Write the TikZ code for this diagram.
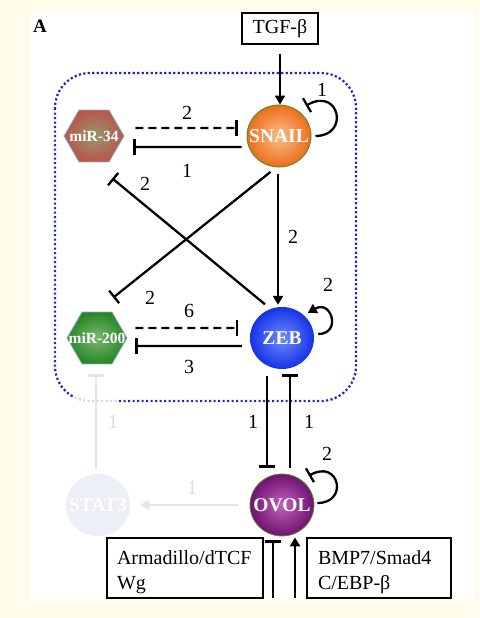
\documentclass[tikz,border=0pt]{standalone}
\usepackage{fontspec}
\setmainfont{Liberation Serif}
\usetikzlibrary{shapes.geometric,arrows.meta}
\newlength{\mylinkwidth}
\setlength{\mylinkwidth}{2.3pt}
\newcommand{\gene}[1]{\makebox[0pt]{#1}}
\definecolor{cream}{RGB}{255,252,236}
\definecolor{framecol}{RGB}{30,40,200}
\definecolor{snailout}{RGB}{236,110,28}
\definecolor{snailin}{RGB}{250,190,135}
\definecolor{snailedge}{RGB}{95,140,45}
\definecolor{mirAout}{RGB}{184,86,74}
\definecolor{mirAin}{RGB}{150,152,112}
\definecolor{mirBout}{RGB}{38,135,38}
\definecolor{mirBin}{RGB}{125,182,112}
\definecolor{miredge}{RGB}{150,170,205}
\definecolor{zebout}{RGB}{22,50,232}
\definecolor{zebin}{RGB}{110,140,252}
\definecolor{ovolout}{RGB}{112,18,112}
\definecolor{ovolin}{RGB}{190,100,190}
\definecolor{statfill}{RGB}{237,239,246}

\begin{document}
\begin{tikzpicture}[x=1pt,y=-1pt,
        gene/.style={ellipse,inner sep=0pt,minimum width=64pt,minimum height=62pt,
            text=white,font=\fontsize{19.5}{20}\selectfont\bfseries},
        mir/.style={regular polygon,regular polygon sides=6,inner sep=0pt,
            minimum size=60pt,draw=miredge,line width=.8pt,
            text=white,font=\fontsize{15.5}{16}\selectfont\bfseries},
        box/.style={draw,line width=1.2pt,inner sep=0pt,font=\fontsize{20}{25}\selectfont},
        lab/.style={font=\fontsize{20}{20}\selectfont},
        link/.style={line width=\mylinkwidth},
        act/.style={link,-{Triangle[length=9pt,width=10pt]}},
        inh/.style={link,-{Bar[width=16pt]}},
        dashlink/.style={dash pattern=on 8pt off 5pt},
        faded/.style={draw=black!10,text=black!13},
        frame/.style={draw=framecol,line width=2.2pt,dash pattern=on 2.2pt off 2.3pt,
            rounded corners=35pt}
    ]
    \fill[cream] (0,0) rectangle (479,618);
    \fill[white] (30,12) rectangle (475,600);
    \useasboundingbox (0,0) rectangle (479,618);

    \node[font=\fontsize{19}{19}\selectfont\bfseries] (panel) at (40,26) {A};
    \node[box,minimum width=76pt,minimum height=31pt] (tgf) at (280,28.5) {TGF-β};

    \draw[frame] (55,73) rectangle (356,401);
    \fill[white,opacity=.8] (74,387) rectangle (118,405);

    \node[gene,shading=radial,inner color=snailin,outer color=snailout,
        draw=snailedge,line width=1pt] (snail) at (279,136) {\gene{SNAIL}};
    \node[mir,shading=radial,inner color=mirAin,outer color=mirAout] (mir34) at (94,136) {\gene{miR-34}};
    \node[mir,shading=radial,inner color=mirBin,outer color=mirBout] (mir200) at (97,338) {\gene{miR-200}};
    \node[gene,shading=radial,inner color=zebin,outer color=zebout] (zeb) at (282,338) {\gene{ZEB}};
    \node[gene,shading=radial,inner color=ovolin,outer color=ovolout,
        draw=snailedge,line width=.8pt] (ovol) at (282,505) {\gene{OVOL}};
    \node[gene,fill=statfill] (stat3) at (98,505) {\gene{STAT3}};

    \node[box,minimum width=156pt,minimum height=60pt,text width=136pt,
        text height=22pt,align=left] (wnt) at (185,568) {Armadillo/dTCF\\Wg};
    \node[box,minimum width=144pt,minimum height=60pt,text width=122pt,
        text height=22pt,align=left] (bmp) at (379,568) {BMP7/Smad4\\C/EBP-β};
    \coordinate (wntin) at (273,598);
    \coordinate (bmpin) at (295,598);

    \draw[act,shorten <=9pt] (tgf.south) -- (tgf.south |- snail.north);
    \draw[inh,dashlink,shorten <=11pt,shorten >=9pt] ([yshift=8pt]mir34.east) -- ([yshift=8pt]snail.west);
    \draw[inh,shorten <=5pt,shorten >=9pt] ([yshift=-11pt]snail.west) -- ([yshift=-11pt]mir34.east);
    \draw[inh,shorten <=4pt] (snail.east) to[out=0,in=30,looseness=3.2] ([xshift=4pt,yshift=8pt]snail.north east);
    \draw[act,shorten <=6pt,shorten >=2pt] ([xshift=-1pt]snail.south) -- ([xshift=-1pt]snail.south |- zeb.north);
    \draw[inh,shorten <=7pt] ([xshift=-3pt]snail.south) -- ([xshift=1pt,yshift=14pt]mir200.60);
    \draw[inh,shorten <=4pt] ([xshift=-14pt]zeb.north) -- ([xshift=3pt,yshift=-16pt]mir34.300);
    \draw[inh,dashlink,shorten <=8pt,shorten >=12pt] ([yshift=10pt]mir200.east) -- ([yshift=10pt]zeb.west);
    \draw[inh,shorten <=8pt,shorten >=8pt] ([yshift=-8pt]zeb.west) -- ([yshift=-8pt]mir200.east);
    \draw[act,shorten <=4pt] ([yshift=4pt]zeb.east) to[out=0,in=30,looseness=3.2] ([xshift=3pt,yshift=3pt]zeb.north east);
    \draw[inh,shorten <=7pt,shorten >=6pt] ([xshift=-15pt]zeb.south) -- ([xshift=-15pt]ovol.north);
    \draw[inh,shorten <=6pt,shorten >=5pt] ([xshift=8pt]ovol.north) -- ([xshift=8pt]zeb.south);
    \draw[inh,shorten <=3pt] ([yshift=2pt]ovol.east) to[out=0,in=30,looseness=3.2] ([xshift=4pt,yshift=7pt]ovol.north east);
    \draw[act,faded,shorten <=11pt,shorten >=10pt] (ovol.west) -- (stat3.east);
    \draw[inh,faded,shorten <=4pt,shorten >=10pt] ([xshift=-2pt]stat3.north) -- ([xshift=-2pt]stat3.north |- mir200.south);
    \draw[inh,shorten >=4pt] (wntin) -- (wntin |- ovol.south);
    \draw[act,shorten >=1pt] (bmpin) -- (bmpin |- ovol.south);

    \node[lab] (snailself) at (322,90) {1};
    \node[lab] (mirAdash) at (187,113) {2};
    \node[lab] (mirAsolid) at (187,171) {1};
    \node[lab] (zebmirA) at (145,184) {2};
    \node[lab] (snailzeb) at (293,237) {2};
    \node[lab] (snailmirB) at (150,298) {2};
    \node[lab] (mirBdash) at (189,311) {6};
    \node[lab] (mirBsolid) at (189,367) {3};
    \node[lab] (zebself) at (328,285) {2};
    \node[lab] (zebovol) at (253,422) {1};
    \node[lab] (ovolzeb) at (309,422) {1};
    \node[lab] (ovolself) at (327,454) {2};
    \node[lab,text=black!13] (statmirB) at (113,422) {1};
    \node[lab,text=black!13] (ovolstat) at (192,488) {1};
\end{tikzpicture}
\end{document}
